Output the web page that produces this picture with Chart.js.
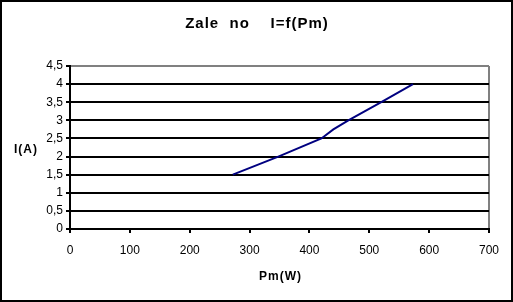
<!DOCTYPE html>
<html>
<head>
<meta charset="utf-8">
<script src="https://cdn.jsdelivr.net/npm/chart.js@4"></script>
<style>
  body { margin: 0; background: #fff; }
  canvas { display: block; }
</style>
</head>
<body>
<canvas id="myChart" width="513" height="302"></canvas>
<script>
var pm = [272, 348, 420, 440, 465, 520, 573];
var current = [1.5, 2.0, 2.5, 2.75, 3.0, 3.5, 4.0];
var chartTitle = 'Zale  no    I=f(Pm)';
var xTitle = 'Pm(W)';
var yTitle = 'I(A)';

var points = pm.map(function (p, i) { return { x: p, y: current[i] }; });

// titles and outer frame, drawn the way the spreadsheet did
var frame = {
  id: 'frame',
  afterDraw: function (chart) {
    var c = chart.ctx;
    var area = chart.chartArea;
    c.save();
    c.fillStyle = '#000';
    c.textAlign = 'center';
    c.textBaseline = 'middle';
    c.letterSpacing = '1px';
    c.font = 'bold 15px Arial, "Liberation Sans"';
    c.fillText(chartTitle, 257, 24);
    c.font = 'bold 12px Arial, "Liberation Sans"';
    c.fillText(xTitle, (area.left + area.right) / 2 + 1, 277);
    c.fillText(yTitle, 26, 150);
    c.letterSpacing = '0px';
    c.lineWidth = 2;
    c.strokeStyle = '#000';
    c.strokeRect(1, 1, 511, 300);
    c.restore();
  }
};

var ctx = document.getElementById('myChart').getContext('2d');
var myChart = new Chart(ctx, {
  type: 'scatter',
  data: {
    datasets: [{
      data: points,
      showLine: true,
      borderColor: '#000080',
      backgroundColor: '#000080',
      borderWidth: 2,
      pointRadius: 0,
      tension: 0
    }]
  },
  options: {
    responsive: false,
    animation: false,
    layout: { padding: { top: 66, right: 24, left: 0, bottom: 0 } },
    plugins: {
      legend: { display: false },
      tooltip: { enabled: false }
    },
    scales: {
      x: {
        type: 'linear',
        min: 0,
        max: 700,
        afterFit: function (s) { s.height = 73; },
        ticks: {
          stepSize: 100,
          color: '#000',
          padding: 10,
          maxRotation: 0,
          font: { family: 'Arial, "Liberation Sans"', size: 12 }
        },
        grid: {
          color: function (c) { return c.tick && c.tick.value === 700 ? '#808080' : 'rgba(0,0,0,0)'; },
          tickColor: '#000',
          lineWidth: 2,
          tickLength: 4
        },
        border: { color: '#000', width: 2 }
      },
      y: {
        min: 0,
        max: 4.5,
        afterFit: function (s) { s.width = 70; },
        ticks: {
          stepSize: 0.5,
          color: '#000',
          padding: 3,
          font: { family: 'Arial, "Liberation Sans"', size: 12 },
          callback: function (v) { return String(v).replace('.', ','); }
        },
        grid: {
          color: function (c) { return c.tick && c.tick.value === 4.5 ? '#808080' : '#000'; },
          tickColor: '#000',
          lineWidth: 2,
          tickLength: 4
        },
        border: { color: '#000', width: 2 }
      }
    }
  },
  plugins: [frame]
});
</script>
</body>
</html>
